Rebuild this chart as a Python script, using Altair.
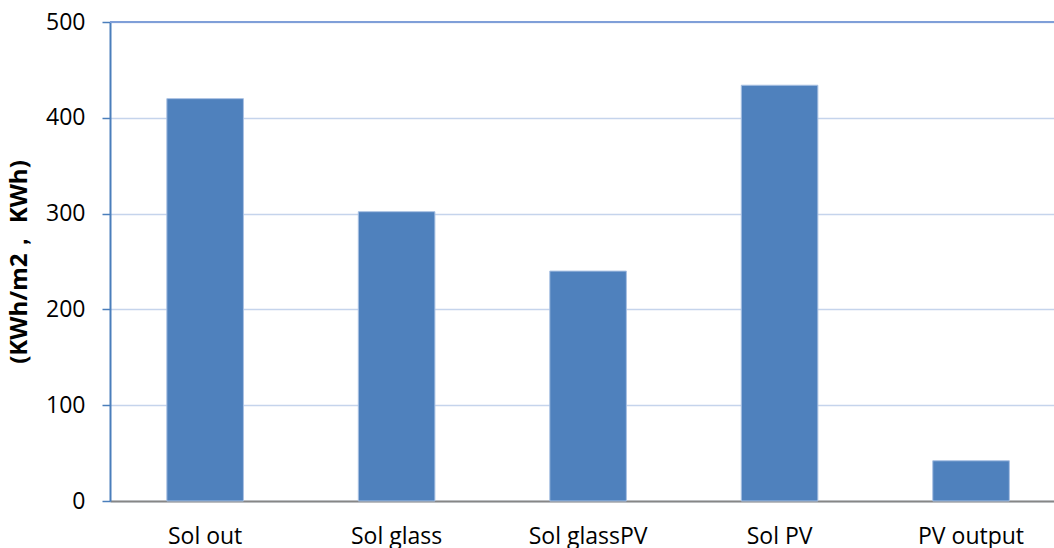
import altair as alt
import pandas as pd

categories = ["Sol out", "Sol glass", "Sol glassPV", "Sol PV", "PV output"]
values = [420, 302, 240, 434, 42]
y_ticks = [0, 100, 200, 300, 400, 500]

df = pd.DataFrame({"cat": categories, "val": values})
top_df = pd.DataFrame({"v": [500]})

FONT = "Open Sans"

x_enc = alt.X(
    "cat:N",
    sort=categories,
    title=None,
    scale=alt.Scale(paddingInner=0.6, paddingOuter=0.265, align=0.56),
    axis=alt.Axis(
        labelAngle=0,
        labelFont=FONT,
        labelFontSize=23,
        labelColor="#000000",
        labelPadding=24,
        ticks=False,
        domainColor="#868686",
        domainWidth=2,
        grid=False,
    ),
)

y_enc = alt.Y(
    "val:Q",
    title="(KWh/m2，     KWh)",
    scale=alt.Scale(domain=[0, 500], nice=False),
    axis=alt.Axis(
        values=y_ticks,
        labelFont=FONT,
        labelFontSize=23,
        labelColor="#000000",
        labelPadding=17,
        tickSize=8,
        tickColor="#4a7ebb",
        tickWidth=1.5,
        domainColor="#4a7ebb",
        domainWidth=2,
        gridColor="#c5d4ec",
        gridWidth=1.5,
        titleFont=FONT,
        titleFontSize=24,
        titleFontWeight="bold",
        titleColor="#000000",
        titlePadding=14,
    ),
)

bars = alt.Chart(df).mark_bar(
    color="#4f81bd", stroke="#a9c1e3", strokeWidth=1
).encode(x=x_enc, y=y_enc)

top_rule = alt.Chart(top_df).mark_rule(color="#7f9fd8", strokeWidth=2).encode(
    y=alt.Y("v:Q", scale=alt.Scale(domain=[0, 500], nice=False))
)

chart = (
    alt.layer(top_rule, bars)
    .properties(
        width=944,
        height=479,
        padding={"left": 110, "top": 22, "right": 0, "bottom": 47},
        autosize=alt.AutoSizeParams(type="none"),
        background="#ffffff",
    )
    .configure_view(stroke=None)
)

chart.save("out.html", embed_options={"renderer": "svg", "actions": False})
